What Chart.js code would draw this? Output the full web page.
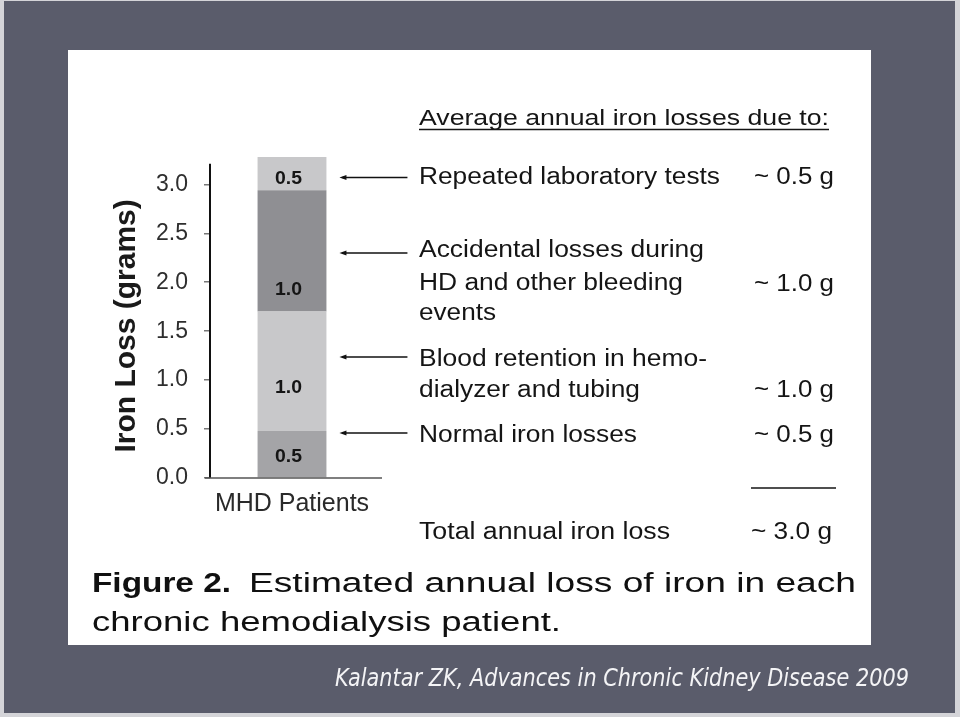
<!DOCTYPE html>
<html>
<head>
<meta charset="utf-8">
<script src="https://cdn.jsdelivr.net/npm/chart.js@4/dist/chart.umd.min.js"></script>
<style>
  html, body { margin: 0; padding: 0; }
  body { width: 960px; height: 717px; background: #d4d4d8; position: relative; overflow: hidden; }
  #slide { position: absolute; left: 4px; top: 1px; width: 951px; height: 712px; background: #5a5c6b; }
  #panel { position: absolute; left: 68px; top: 50px; width: 803px; height: 595px; background: #ffffff; }
  #c { position: absolute; left: 0; top: 0; }
</style>
</head>
<body>
<div id="slide"></div>
<div id="panel"></div>
<canvas id="c" width="960" height="717"></canvas>
<script>
// ---- data ----
const categories = ['MHD Patients'];
const seriesNames = ['Normal iron losses', 'Blood retention in hemodialyzer and tubing', 'Accidental losses during HD and other bleeding events', 'Repeated laboratory tests'];
const segmentValues = [0.48, 1.22, 1.24, 0.34];
const segmentLabels = ['0.5', '1.0', '1.0', '0.5'];
const yTicks = [0, 0.5, 1.0, 1.5, 2.0, 2.5, 3.0];
const yTitle = 'Iron Loss (grams)';
const headerText = 'Average annual iron losses due to:';
const itemLines = [
  ['Repeated laboratory tests'],
  ['Accidental losses during', 'HD and other bleeding', 'events'],
  ['Blood retention in hemo-', 'dialyzer and tubing'],
  ['Normal iron losses']
];
const itemAmounts = ['~ 0.5 g', '~ 1.0 g', '~ 1.0 g', '~ 0.5 g'];
const totalText = 'Total annual iron loss';
const totalAmount = '~ 3.0 g';
const captionBold = 'Figure 2.';
const captionLine1 = 'Estimated annual loss of iron in each';
const captionLine2 = 'chronic hemodialysis patient.';
const citation = 'Kalantar ZK, Advances in Chronic Kidney Disease 2009';

// ---- styling / placement ----
const segColors = ['#a4a4a7', '#c8c8ca', '#8f8f93', '#c8c8ca'];
const labelAnchors = [0.163, 0.867, 1.867, 3.0];   // y-values of the bar label baselines (bottom to top)
const arrowAnchors = [3.07, 2.30, 1.235, 0.46];     // y-values the arrows point at (top to bottom)
const SANS = '"Liberation Sans", Arial, sans-serif';

function stretchText(ctx, s, x, y, font, width, color, align) {
  ctx.save();
  ctx.font = font;
  ctx.fillStyle = color;
  ctx.textBaseline = 'alphabetic';
  ctx.textAlign = 'left';
  const m = ctx.measureText(s).width;
  const k = width ? width / m : 1;
  const w = m * k;
  let x0 = x;
  if (align === 'center') x0 = x - w / 2;
  else if (align === 'right') x0 = x - w;
  ctx.translate(x0, y);
  ctx.scale(k, 1);
  ctx.fillText(s, 0, 0);
  ctx.restore();
}

const decor = {
  id: 'decor',
  afterDraw(chart) {
    const ctx = chart.ctx;
    const y = chart.scales.y;
    const area = chart.chartArea;

    // axis lines
    ctx.save();
    ctx.strokeStyle = '#111';
    ctx.lineWidth = 2;
    ctx.beginPath();
    ctx.moveTo(area.left, y.getPixelForValue(3.21));
    ctx.lineTo(area.left, y.getPixelForValue(0));
    ctx.stroke();
    ctx.strokeStyle = '#555';
    ctx.lineWidth = 1.5;
    ctx.beginPath();
    ctx.moveTo(area.left - 5, y.getPixelForValue(0));
    ctx.lineTo(area.right + 8, y.getPixelForValue(0));
    ctx.stroke();
    ctx.restore();

    // y title
    ctx.save();
    ctx.translate(127, (y.getPixelForValue(0) + y.getPixelForValue(3.21)) / 2 + 5);
    ctx.rotate(-Math.PI / 2);
    ctx.font = 'bold 30px ' + SANS;
    ctx.fillStyle = '#1a1a1a';
    ctx.textAlign = 'center';
    ctx.textBaseline = 'middle';
    ctx.fillText(yTitle, 0, 0);
    ctx.restore();

    // bar segment labels
    segmentLabels.forEach((lab, i) => {
      const bar = chart.getDatasetMeta(i).data[0];
      stretchText(ctx, lab, bar.x - 3.5, y.getPixelForValue(labelAnchors[i]), 'bold 19px ' + SANS, 27, '#151515', 'center');
    });

    // arrows
    const barRight = chart.getDatasetMeta(0).data[0].x + chart.getDatasetMeta(0).data[0].width / 2;
    ctx.save();
    ctx.strokeStyle = '#111';
    ctx.fillStyle = '#111';
    ctx.lineWidth = 1.5;
    arrowAnchors.forEach(v => {
      const py = y.getPixelForValue(v);
      const x0 = barRight + 13, x1 = barRight + 81;
      ctx.beginPath();
      ctx.moveTo(x0 + 3, py);
      ctx.lineTo(x1, py);
      ctx.stroke();
      ctx.beginPath();
      ctx.moveTo(x0, py);
      ctx.lineTo(x0 + 7, py - 2.5);
      ctx.lineTo(x0 + 7, py + 2.5);
      ctx.closePath();
      ctx.fill();
    });
    ctx.restore();

    // right-hand annotation text
    const TX = 419, VX = 754;
    const itemFont = '23px ' + SANS;
    const ink = '#151515';
    stretchText(ctx, headerText, TX, 125, '22px ' + SANS, 410, ink);
    ctx.save();
    ctx.strokeStyle = ink; ctx.lineWidth = 1.5;
    ctx.beginPath(); ctx.moveTo(TX, 129.5); ctx.lineTo(TX + 410, 129.5); ctx.stroke();
    ctx.restore();

    const lineBase = [[184], [257, 290, 320], [366, 397], [442]];
    const lineWidths = [[301], [285, 264, 77], [288, 221], [218]];
    const amountBase = [184, 291, 397, 442];
    itemLines.forEach((lines, i) => {
      lines.forEach((s, j) => stretchText(ctx, s, TX, lineBase[i][j], itemFont, lineWidths[i][j], ink));
      stretchText(ctx, itemAmounts[i], VX, amountBase[i], itemFont, 80, ink);
    });
    ctx.save();
    ctx.strokeStyle = ink; ctx.lineWidth = 1.5;
    ctx.beginPath(); ctx.moveTo(751, 488); ctx.lineTo(836, 488); ctx.stroke();
    ctx.restore();
    stretchText(ctx, totalText, TX, 539, itemFont, 251, ink);
    stretchText(ctx, totalAmount, 751, 539, itemFont, 81, ink);

    // caption
    stretchText(ctx, captionBold, 92, 592, 'bold 27px ' + SANS, 139, '#101010');
    stretchText(ctx, captionLine1, 249, 592, '27px ' + SANS, 607, '#101010');
    stretchText(ctx, captionLine2, 92, 631, '27px ' + SANS, 469, '#101010');

    // citation
    stretchText(ctx, citation, 335, 686, 'italic 25px "DejaVu Sans", sans-serif', 574, '#f4f4f6');
  }
};

new Chart(document.getElementById('c'), {
  type: 'bar',
  data: {
    labels: categories,
    datasets: segmentValues.map((v, i) => ({
      label: seriesNames[i],
      data: [v],
      backgroundColor: segColors[i],
      borderWidth: 0,
      barPercentage: 0.42,
      categoryPercentage: 1.0
    }))
  },
  options: {
    responsive: false,
    animation: false,
    layout: { padding: { left: 150, right: 586, top: 155, bottom: 199 } },
    plugins: { legend: { display: false }, tooltip: { enabled: false } },
    scales: {
      x: {
        stacked: true,
        grid: { display: false },
        border: { display: false },
        ticks: { font: { family: SANS, size: 25 }, color: '#2a2a2a', padding: 3 },
        afterFit: s => { s.height = 40; }
      },
      y: {
        stacked: true,
        min: 0,
        max: 3.3,
        afterFit: s => { s.width = 60; },
        afterBuildTicks: s => { s.ticks = yTicks.map(v => ({ value: v })); },
        ticks: { callback: v => Number(v).toFixed(1), font: { family: SANS, size: 23 }, color: '#2e2e2e', padding: 16 },
        grid: { drawOnChartArea: false, drawTicks: true, tickLength: 6, color: '#777', lineWidth: 1.5 },
        border: { display: false }
      }
    }
  },
  plugins: [decor]
});
</script>
</body>
</html>
